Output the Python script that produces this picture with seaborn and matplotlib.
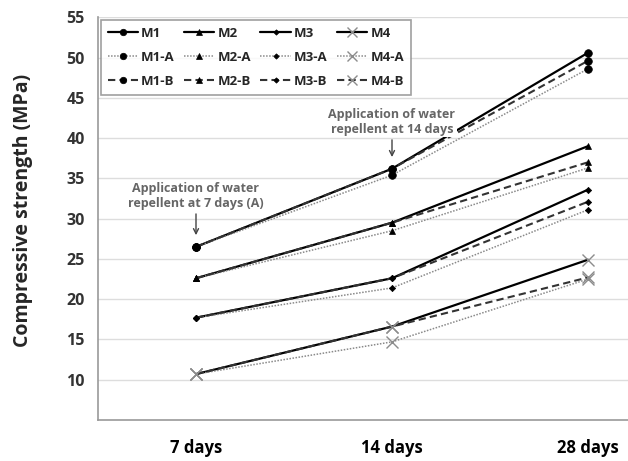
import matplotlib
matplotlib.use("Agg")
import matplotlib.pyplot as plt
import seaborn as sns
import pandas as pd
from matplotlib.lines import Line2D

sns.set_theme(style="white")
plt.rcParams['font.family'] = ['Open Sans', 'DejaVu Sans']

ages = ["7 days", "14 days", "28 days"]
M1 = [26.5, 36.2, 50.6]
M1_A = [26.5, 35.4, 48.6]
M1_B = [26.5, 36.2, 49.6]
M2 = [22.6, 29.5, 39.0]
M2_A = [22.6, 28.5, 36.3]
M2_B = [22.6, 29.5, 37.0]
M3 = [17.7, 22.6, 33.6]
M3_A = [17.7, 21.4, 31.1]
M3_B = [17.7, 22.6, 32.1]
M4 = [10.7, 16.6, 24.9]
M4_A = [10.7, 14.7, 22.5]
M4_B = [10.7, 16.6, 22.7]
yticks = [10, 15, 20, 25, 30, 35, 40, 45, 50, 55]

series = {
    "M1": M1, "M1-A": M1_A, "M1-B": M1_B,
    "M2": M2, "M2-A": M2_A, "M2-B": M2_B,
    "M3": M3, "M3-A": M3_A, "M3-B": M3_B,
    "M4": M4, "M4-A": M4_A, "M4-B": M4_B,
}
markers = {"M1": ("o", 5.5, "black"), "M2": ("^", 4.5, "black"),
           "M3": ("D", 3.2, "black"), "M4": ("x", 8.5, "#8c8c8c")}
lines = {"": ("-", "black", 1.6), "-A": ((0, (1, 1)), "#8a8a8a", 1.1),
         "-B": ((0, (3.5, 2)), "#333333", 1.5)}

rows = []
for name, vals in series.items():
    for i, v in enumerate(vals):
        rows.append({"series": name, "x": i, "value": v})
df = pd.DataFrame(rows)

fig = plt.figure(figsize=(6.28, 4.61), dpi=100)
ax = fig.add_axes([98 / 628, 1 - 420 / 461, 588 / 628, (420 - 17.3) / 461])

handles = {}
for name in series:
    base = name[:2]
    suf = name[2:]
    m, ms, mc = markers[base]
    ls, lc, lw = lines[suf]
    mew = 1.0 if m == "x" else 0.5
    sub = df[df["series"] == name]
    sns.lineplot(data=sub, x="x", y="value", ax=ax, color=lc, linestyle=ls,
                 linewidth=lw, marker=m, markersize=ms, markerfacecolor=mc,
                 markeredgecolor=mc, markeredgewidth=mew,
                 legend=False, zorder=3)
    handles[name] = Line2D([], [], color=lc, linestyle=ls, linewidth=lw, marker=m,
                           markersize=ms * 0.85, markerfacecolor=mc, markeredgecolor=mc,
                           markeredgewidth=mew)

ax.set_xlim(-0.5, 2.5)
ax.set_ylim(5, 55)
ax.set_yticks(yticks)
ax.set_yticklabels([str(t) for t in yticks], fontsize=11.5, color="#333333", fontweight="bold")
ax.set_xticks(range(len(ages)))
ax.set_xticklabels(ages, fontsize=12, fontweight="bold", color="black")
ax.tick_params(axis="x", length=0, pad=14)
ax.tick_params(axis="y", length=5, direction="inout", color="#888888", width=1, pad=7)
ax.yaxis.grid(True, color="#dddddd", linewidth=1)
ax.set_axisbelow(True)
for s in ["top", "right"]:
    ax.spines[s].set_visible(False)
for s in ["left", "bottom"]:
    ax.spines[s].set_color("#999999")
    ax.spines[s].set_linewidth(1.2)
ax.set_xlabel("")
ax.set_ylabel("Compressive strength (MPa)", fontsize=14, fontweight="bold")
ax.yaxis.set_label_coords(-(98 - 33) / 588, 0.52)

order = ["M1", "M1-A", "M1-B", "M2", "M2-A", "M2-B",
         "M3", "M3-A", "M3-B", "M4", "M4-A", "M4-B"]
leg = fig.legend([handles[k] for k in order], order, ncol=4,
                 loc="upper left", bbox_to_anchor=(101 / 628, 1 - 20 / 461),
                 frameon=True, fancybox=False, edgecolor="#888888",
                 prop={"size": 9.5, "weight": "bold"}, handlelength=2.3,
                 handletextpad=0.25, columnspacing=0.7, labelspacing=0.85,
                 borderpad=0.5, borderaxespad=0)
leg.get_frame().set_linewidth(1.2)

ann_kw = dict(ha="center", va="bottom", fontsize=9, fontweight="bold", color="#666666",
              bbox=dict(facecolor="white", edgecolor="none", pad=1),
              arrowprops=dict(arrowstyle="->", color="#444444", lw=1))
ax.annotate("Application of water\nrepellent at 7 days (A)", xy=(0, 27.6), xytext=(0, 31.1),
            textcoords="data", **ann_kw)
ax.annotate("Application of water\nrepellent at 14 days", xy=(1, 37.3), xytext=(1, 40.3),
            textcoords="data", **ann_kw)

fig.savefig("out.png", dpi=100)
